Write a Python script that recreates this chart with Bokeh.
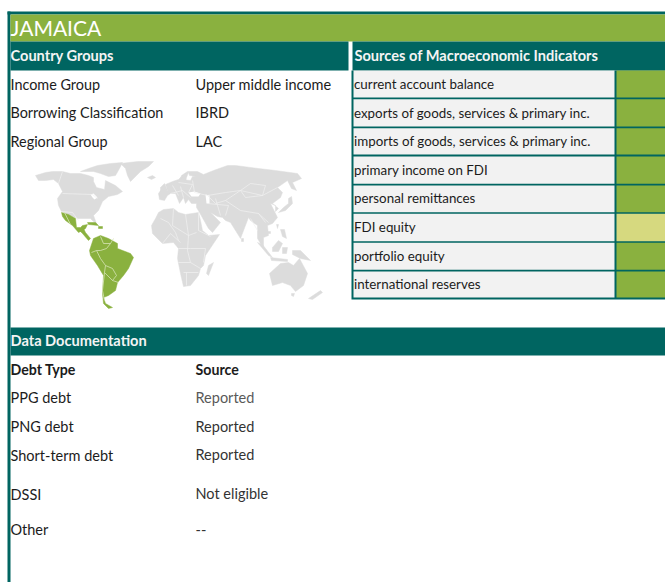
from bokeh.plotting import figure
from bokeh.models import Range1d
from bokeh.core.properties import value
from bokeh.embed import file_html
from bokeh.resources import INLINE

TEAL = "#006561"
GREEN = "#8AB13F"
YELLOW = "#D6D97F"
ROW = "#F2F2F2"
GREY = "#DCDCDC"
INK = "#1C1C1C"
FONT = value("Lato")

country = "JAMAICA"
group_labels = ["Income Group", "Borrowing Classification", "Regional Group"]
group_values = ["Upper middle income", "IBRD", "LAC"]
group_y = [84, 112, 141]

indicators = ["current account balance", "exports of goods, services & primary inc.",
              "imports of goods, services & primary inc.", "primary income on FDI",
              "personal remittances", "FDI equity", "portfolio equity", "international reserves"]
indicator_status = [GREEN, GREEN, GREEN, GREEN, GREEN, YELLOW, GREEN, GREEN]
row_top = [70, 98.7, 127.7, 156, 185, 213.3, 242.3, 271]
row_bot = [97, 126, 154, 183.3, 211.7, 240.7, 269.3, 297]
row_text_y = [83, 112, 140, 169, 197, 226, 255, 283]

debt_types = ["PPG debt", "PNG debt", "Short-term debt", "DSSI", "Other"]
debt_y = [397, 426, 455, 494, 529]
debt_sources = ["Reported", "Reported", "Reported", "Not eligible", "--"]
source_y = [397, 426, 454, 493, 529]
source_colors = ["#595959", "#333333", "#333333", "#333333", "#333333"]

# map outlines
north_america = [(35,175),(45,172),(52,171),(62,171),(70,173),(80,173),(88,175),(93,177),(93,181),(96,187),(104,189),(105,180),(115,185),(122,191),(117,194),(108,196),(102,201),(98,210),(93,215),(96,223),(93,221),(90,218),(77,218),(70,215),(61,211),(58,205),(57,198),(62,191),(58,183),(53,179),(45,180),(38,180)]
arctic = [(80,171),(88,168),(97,165),(110,163),(122,162),(119,168),(115,175),(108,176),(100,173),(93,171)]
greenland = [(120,163),(137,161),(153,161),(148,166),(140,171),(130,181),(127,175),(125,168)]
iceland = [(147,177),(152,175),(155,177),(151,179)]
uk = [(160,187),(164,183),(167,190),(160,192)]
eurasia = [(178,183),(181,175),(187,171),(197,171),(203,174),(213,170),(227,165),(235,165),(258,168),(275,170),(297,173),(301,178),(292,182),(296,190),(291,188),(287,180),(277,187),(282,192),(280,197),(272,203),(278,208),(275,211),(275,205),(270,203),(277,217),(272,223),(267,225),(268,235),(263,237),(263,248),(257,238),(257,225),(250,220),(248,217),(240,238),(230,222),(225,220),(222,217),(217,216),(210,212),(218,220),(220,222),(212,232),(208,228),(199,212),(196,207),(196,203),(191,203),(188,199),(185,203),(183,197),(179,203),(175,193),(170,193),(167,195),(164,200),(159,199),(158,193),(160,190),(167,190),(165,184),(172,181),(178,179),(181,176),(182,179),(190,180),(192,176),(196,176),(189,175),(188,172),(186,177),(185,182),(181,184)]
africa = [(158,212),(163,209),(173,208),(178,212),(185,214),(198,212),(200,220),(202,230),(208,235),(219,234),(213,243),(205,255),(203,265),(200,268),(198,275),(190,285),(183,286),(180,273),(177,258),(178,248),(173,242),(162,243),(152,233),(151,225),(155,218)]
madagascar = [(213,262),(208,275),(206,273),(208,265)]
australia = [(269,273),(280,263),(288,262),(293,265),(299,258),(307,273),(303,285),(295,291),(290,285),(282,282),(272,285)]
tasmania = [(291,293),(294,293),(293,296),(291,295)]
new_zealand = [(308,298),(320,290),(322,292),(312,299)]
sumatra = [(257,242),(262,244),(272,257),(268,255)]
borneo = [(272,247),(278,240),(282,243),(278,251),(272,251)]
java = [(270,257),(287,259),(287,261),(271,260)]
new_guinea = [(292,250),(300,250),(310,260),(300,258),(292,254)]
sulawesi = [(282,247),(287,247),(286,253),(282,253)]
philippines = [(280,229),(284,229),(286,238),(282,236)]
japan = [(278,212),(283,207),(288,203),(288,198),(291,196),(292,203),(285,210)]
hainan = [(267,231),(270,231),(270,233),(267,233)]
taiwan = [(276,224),(278,224),(277,228)]
sri_lanka = [(241,238),(243,238),(243,241),(241,241)]
seas = [[(90,194),(93,193),(97,197),(94,199),(92,197)],
        [(188,192),(194,191),(200,193),(198,196),(191,196)],
        [(205,194),(209,195),(209,203),(206,203)]]
grey_land = [north_america, arctic, greenland, iceland, uk, eurasia, africa, madagascar, australia, tasmania,
             new_zealand, sumatra, borneo, java, new_guinea, sulawesi, philippines, japan, hainan, taiwan, sri_lanka]

mexico = [(61,212),(68,214),(75,218),(76,227),(80,227),(82,225),(87,224),(85,228),(82,230),(78,232),(72,225),(65,220),(62,216)]
central_america = [(79,230),(83,228),(85,232),(90,238),(88,240),(82,233)]
cuba = [(87,222),(95,222),(98,225),(88,224)]
hispaniola = [(98,226),(102,226),(102,228),(98,228)]
south_america = [(90,247),(93,238),(100,235),(108,238),(117,243),(117,248),(130,253),(133,257),(128,268),(123,275),(117,282),(115,290),(108,295),(103,297),(105,303),(112,307),(108,308),(103,303),(102,293),(103,275),(97,265),(90,255),(89,250)]
green_land = [mexico, central_america, cuba, hispaniola, south_america]
green_borders = [[(100,236),(103,243),(110,243),(106,248),(100,250),(96,250),(91,252)], [(110,243),(113,238)],
                 [(96,250),(100,258),(105,265),(104,272),(112,280)], [(104,272),(102,290),(104,300)],
                 [(105,265),(112,268),(116,275),(112,280)], [(112,280),(118,282)], [(64,212),(70,224)]]
grey_borders = [[(160,218),(168,222),(175,232),(178,240)], [(173,208),(172,225),(188,235),(196,232)],
                [(185,214),(188,235),(187,250)], [(198,212),(198,230),(210,236)], [(162,243),(170,233),(180,242)],
                [(178,248),(190,248),(205,248)], [(187,250),(190,262),(178,262)], [(190,262),(200,268)],
                [(183,272),(198,272)], [(186,272),(186,285)], [(205,248),(203,262)],
                [(62,171),(58,183)], [(62,193),(92,194),(97,198)], [(61,211),(72,212),(78,220)],
                [(192,180),(194,192),(207,195),(225,192),(240,190),(262,195),(277,187)],
                [(240,190),(250,183),(265,185),(262,195),(245,197),(240,190)],
                [(225,200),(240,210),(258,213),(265,222)], [(215,198),(220,215)], [(207,203),(228,205),(225,215)],
                [(207,195),(215,203),(225,200),(240,190)], [(172,185),(178,195)], [(178,182),(192,184),(188,192)],
                [(170,193),(182,190),(190,197)], [(180,186),(183,197)], [(250,218),(257,230)], [(258,213),(268,222)]]

fig = figure(width=665, height=582, output_backend="svg", toolbar_location=None,
             x_range=Range1d(0, 665), y_range=Range1d(582, 0),
             min_border=0, outline_line_color=None, background_fill_color="white")
fig.axis.visible = False
fig.grid.visible = False

# frame and header bands
fig.quad(left=[7], right=[10], top=[11], bottom=[582], color=TEAL, line_color=None)
fig.quad(left=[7], right=[665], top=[11], bottom=[14], color=TEAL, line_color=None)
fig.quad(left=[10], right=[665], top=[14], bottom=[41], color=GREEN, line_color=None)
fig.quad(left=[10, 352, 10], right=[348, 665, 665], top=[41, 41, 327], bottom=[70, 70, 355], color=TEAL, line_color=None)

# indicator table
fig.quad(left=[351], right=[665], top=[70], bottom=[299], color=TEAL, line_color=None)
fig.quad(left=[353]*8, right=[614]*8, top=row_top, bottom=row_bot, color=ROW, line_color=None)
fig.quad(left=[616]*8, right=[665]*8, top=row_top, bottom=row_bot, color=indicator_status, line_color=None)

# world map
for shape in grey_land:
    fig.patch([a for a, b in shape], [b for a, b in shape], color=GREY, line_color=GREY, line_width=0.5)
for shape in seas:
    fig.patch([a for a, b in shape], [b for a, b in shape], color="white", line_color=None)
fig.multi_line([[a for a, b in l] for l in grey_borders], [[b for a, b in l] for l in grey_borders],
               line_color="#F0F0F0", line_width=0.7)
for shape in green_land:
    fig.patch([a for a, b in shape], [b for a, b in shape], color=GREEN, line_color=GREEN, line_width=0.5)
fig.multi_line([[a for a, b in l] for l in green_borders], [[b for a, b in l] for l in green_borders],
               line_color="#D5E3B5", line_width=0.8)

# texts
def label(x, y, text, size, color=INK, style="normal"):
    fig.text(x=x, y=y, text=text, text_font=FONT, text_font_size=size, text_color=color,
             text_font_style=style, text_align="left", text_baseline="middle")

label([10], [27], [country], "21px", "white")
label([10, 354, 10], [55, 55, 340], ["Country Groups", "Sources of Macroeconomic Indicators", "Data Documentation"],
      "14.6px", "#F4F4F4", "bold")
label([10]*3, group_y, group_labels, "14.4px")
label([195]*3, group_y, group_values, "14.5px")
label([353.5]*8, row_text_y, indicators, "13.35px")
label([10, 195], [369, 369], ["Debt Type", "Source"], "14.2px", INK, "bold")
label([10]*5, debt_y, debt_types, "14.5px")
fig.text(x=[195]*5, y=source_y, text=debt_sources, text_font=FONT, text_font_size="14.5px",
         text_color=source_colors, text_align="left", text_baseline="middle")

html = file_html(fig, INLINE).replace("</head>", "<style>html,body{margin:0;padding:0}</style></head>", 1)
open("out.html", "w").write(html)
